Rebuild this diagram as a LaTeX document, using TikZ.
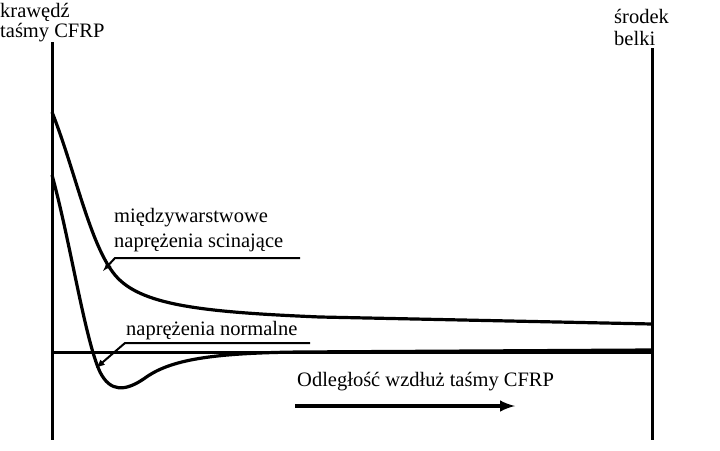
\documentclass[tikz,border=0pt]{standalone}
\usepackage{fontspec}
\setmainfont{Liberation Serif}
\begin{document}
\begin{tikzpicture}[x=1pt,y=-1pt,
  lbl/.style={font=\fontsize{20.5}{22}\selectfont,inner sep=0pt,anchor=west},
  curve/.style={line width=3.2pt},
  leader/.style={line width=2pt}]
\useasboundingbox (0,0) rectangle (720,450);
\coordinate (lt) at (52,42); \coordinate (lb) at (52,440);
\coordinate (rt) at (652,48); \coordinate (rb) at (652,440);
\draw[line width=3pt] (lt) -- (lb);
\draw[line width=3pt] (rt) -- (rb);
\coordinate (bl) at (52,352); \coordinate (br) at (652,352);
\draw[line width=3pt] (bl) -- (br);
% shear curve
\draw[curve] (52,112) .. controls (75,170) and (90,245) .. (115,275)
  .. controls (140,305) and (200,312) .. (320,317) -- (652,324);
% normal curve
\draw[curve] (52,175) .. controls (70,240) and (85,340) .. (100,372)
  .. controls (110,392) and (125,392) .. (145,378)
  .. controls (170,360) and (210,353) .. (300,352) -- (652,350);
% labels
\node[lbl] (t1) at (114,218) {międzywarstwowe};
\node[lbl] (t2) at (114,243) {naprężenia scinające};
\coordinate (u1a) at (300,258); \coordinate (u1b) at (115,258); \coordinate (u1c) at (103,271);
\draw[leader,-latex] (u1a) -- (u1b) -- (u1c);
\node[lbl] (t3) at (126,331) {naprężenia normalne};
\coordinate (u2a) at (310,343); \coordinate (u2b) at (125,343); \coordinate (u2c) at (96,368);
\draw[leader,-latex] (u2a) -- (u2b) -- (u2c);
\node[lbl] (t4) at (297,382) {Odległość wzdłuż taśmy CFRP};
\coordinate (aa) at (295,406); \coordinate (ab) at (515,406);
\draw[line width=4pt,-latex] (aa) -- (ab);
\node[lbl] (k1) at (0,12) {krawędź};
\node[lbl] (k2) at (0,33) {taśmy CFRP};
\node[lbl] (s1) at (614,16) {środek};
\node[lbl] (s2) at (614,38) {belki};
\end{tikzpicture}
\end{document}
